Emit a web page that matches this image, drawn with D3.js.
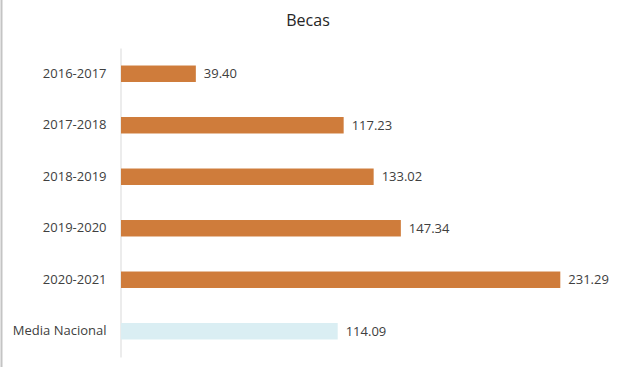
<!DOCTYPE html>
<html>
<head>
<meta charset="utf-8">
<script src="https://cdn.jsdelivr.net/npm/d3@7"></script>
<style>
  body { margin: 0; background: #fff; }
  .container { width: 618px; height: 367px; }
  text { font-family: 'Open Sans', 'Liberation Sans', Arial, sans-serif; fill: #404040; }
</style>
</head>
<body>
<div class="container"><svg></svg></div>
<script>
// data
const categories = ['2016-2017', '2017-2018', '2018-2019', '2019-2020', '2020-2021', 'Media Nacional']
const values = [39.40, 117.23, 133.02, 147.34, 231.29, 114.09]
const title = 'Becas'

// selections
const $svg = d3.select('.container svg')

// dimensions
const width = 618
const height = 367
const margin = { top: 48, bottom: 10, left: 121, right: 57.7 }

const barColor = '#CF7C3B'
const meanColor = '#DAEEF3'
const fontSize = 13

const scaleX = d3.scaleLinear()
  .domain([0, d3.max(values)])
  .range([margin.left, width - margin.right])

const scaleY = d3.scaleBand()
  .domain(categories)
  .range([margin.top, height - margin.bottom])
  .paddingInner(0.68)
  .paddingOuter(0.34)

function render(){
  $svg.attr('width', width).attr('height', height)

  // grey border on the left edge
  $svg.append('line')
    .attr('x1', 1.5).attr('x2', 1.5)
    .attr('y1', 0).attr('y2', height)
    .attr('stroke', '#c4c4c4')
    .attr('stroke-width', 2)

  $svg.append('text')
    .attr('x', 308)
    .attr('y', 26)
    .attr('text-anchor', 'middle')
    .style('font-size', '16px')
    .style('fill', '#262626')
    .text(title)

  const rows = categories.map((c, i) => ({ cat: c, val: values[i] }))

  // category axis
  const $axis = $svg.append('g')
    .attr('transform', `translate(${margin.left - 0.5}, 0)`)
    .call(d3.axisLeft(scaleY).tickSize(0).tickSizeOuter(0).tickPadding(14))
  $axis.select('.domain').attr('stroke', '#d9d9d9')
  $axis.selectAll('text')
    .style('font-size', fontSize + 'px')
    .style('fill', '#404040')
    .attr('font-family', null)

  $svg.append('g')
    .selectAll('rect')
    .data(rows)
    .enter()
    .append('rect')
    .attr('x', scaleX(0))
    .attr('y', d => scaleY(d.cat))
    .attr('width', d => scaleX(d.val) - scaleX(0))
    .attr('height', scaleY.bandwidth())
    .attr('fill', (d, i) => i === rows.length - 1 ? meanColor : barColor)

  $svg.append('g')
    .selectAll('text')
    .data(rows)
    .enter()
    .append('text')
    .attr('x', d => scaleX(d.val) + 8)
    .attr('y', d => scaleY(d.cat) + scaleY.bandwidth() / 2)
    .attr('dy', '0.35em')
    .style('font-size', fontSize + 'px')
    .text(d => d.val.toFixed(2))
}

render()
</script>
</body>
</html>
